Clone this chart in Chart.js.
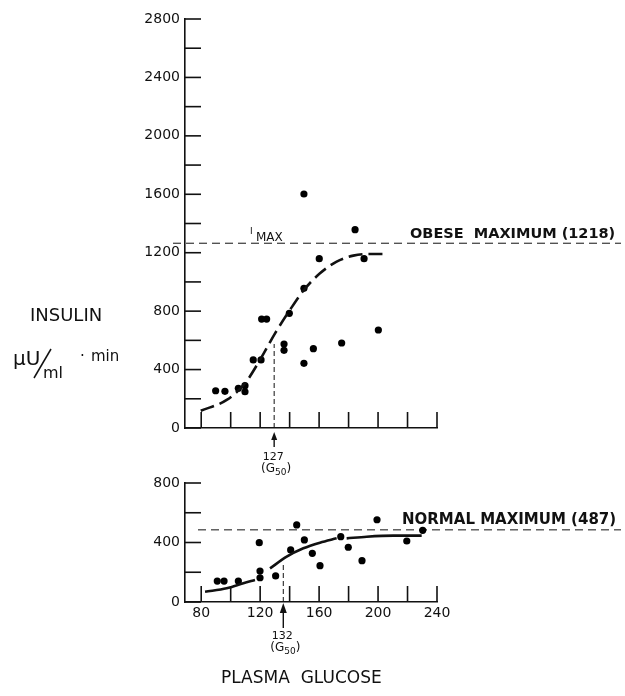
<!DOCTYPE html>
<html><head><meta charset="utf-8">
<script src="https://cdn.jsdelivr.net/npm/chart.js@4.4.1/dist/chart.umd.min.js"></script>
<style>
html,body{margin:0;padding:0;background:#fff;width:625px;height:696px;overflow:hidden;}
#wrap{position:relative;width:625px;height:696px;}
canvas{position:absolute;left:0;}
</style></head><body>
<div id="wrap">
<canvas id="top" width="625" height="476" style="top:0px;width:625px;height:476px"></canvas>
<canvas id="bot" width="625" height="230" style="top:466px;width:625px;height:230px"></canvas>
</div>
<script>
// ---------- data ----------
const obeseGlucose = [89.8,96.1,105.2,109.7,109.7,115.3,120.6,121.0,124.4,136.2,136.2,139.8,149.7,149.7,149.7,156.1,160.1,175.3,184.4,190.5,200.2];
const obeseInsulin = [255,251,272,290,248,466,466,746,746,575,532,785,1602,956,443,543,1159,582,1358,1159,671];
const obeseCurveGlucose = [79.7,97.3,109.7,119.9,130.1,140.2,149.7,160.6,171.9,183.2,192.3,203.2];
const obeseCurveInsulin = [118,192,306,466,648,808,945,1059,1139,1180,1191,1191];
const normalGlucose = [90.9,95.5,105.2,119.4,119.9,119.9,130.5,140.7,144.8,150.0,155.4,160.6,174.7,179.8,189.1,199.3,219.5,230.3];
const normalInsulin = [141,141,141,399,208,163,175,350,518,417,327,244,439,368,278,553,410,482];
const normalCurveGlucose = [82.6,97.3,108.6,116.5,null,126.7,138.0,149.3,160.6,171.9,null,178.7,192.3,210.4,229.6];
const normalCurveInsulin = [69,92,126,148,null,226,305,361,399,428,null,428,439,446,446];
const obeseMaxLine = 1265;      // drawn level of "OBESE MAXIMUM (1218)"
const normalMaxLine = 485;      // drawn level of "NORMAL MAXIMUM (487)"
const obeseG50 = 129.5, obeseG50Top = 575, obeseG50Text = '127';
const normalG50 = 135.7, normalG50Top = 250, normalG50Text = '132';
const xTickValues = [80,100,120,140,160,180,200,220,240];
const xTickLabels = [80,120,160,200,240];
const topYTickValues = [0,200,400,600,800,1000,1200,1400,1600,1800,2000,2200,2400,2600,2800];
const topYTickLabels = [0,400,800,1200,1600,2000,2400,2800];
const botYTickValues = [0,200,400,600,800];
const botYTickLabels = [0,400,800];

// ---------- helpers ----------
Chart.defaults.font.family = '"DejaVu Sans"';
Chart.defaults.color = '#111';
const INK = '#111';
const pts = (xs, ys) => xs.map((x, i) => (x === null ? {x: null, y: null} : {x, y: ys[i]}));
function line(ctx, x1, y1, x2, y2){ctx.beginPath();ctx.moveTo(x1,y1);ctx.lineTo(x2,y2);ctx.stroke();}
function arrowUp(ctx, x, tip, headLen, headW, tail){
  ctx.setLineDash([]); ctx.lineWidth = 1.4; ctx.strokeStyle = INK; ctx.fillStyle = INK;
  line(ctx, x, tip + headLen - 1, x, tail);
  ctx.beginPath(); ctx.moveTo(x, tip); ctx.lineTo(x - headW/2, tip + headLen); ctx.lineTo(x + headW/2, tip + headLen); ctx.closePath(); ctx.fill();
}
function g50Label(ctx, cx, base, num){
  ctx.fillStyle = INK; ctx.textBaseline = 'alphabetic';
  ctx.font = '11px "DejaVu Sans"'; ctx.textAlign = 'center'; ctx.fillText(num, cx, base);
  ctx.textAlign = 'left';
  const f1 = '12px "DejaVu Sans"', f2 = '9px "DejaVu Sans"';
  ctx.font = f1; const w1 = ctx.measureText('(G').width, w3 = ctx.measureText(')').width;
  ctx.font = f2; const w2 = ctx.measureText('50').width;
  const x0 = cx - (w1 + w2 + w3)/2 + 3;
  ctx.font = f1; ctx.fillText('(G', x0, base + 12);
  ctx.font = f2; ctx.fillText('50', x0 + w1, base + 15);
  ctx.font = f1; ctx.fillText(')', x0 + w1 + w2, base + 12);
}
function innerTicks(chart, yVals){
  const {ctx, chartArea: a, scales: {x, y}} = chart;
  ctx.save(); ctx.strokeStyle = INK; ctx.lineWidth = 1.6; ctx.setLineDash([]);
  yVals.forEach(v => { const py = y.getPixelForValue(v); line(ctx, a.left, py, a.left + 16, py); });
  xTickValues.forEach(v => { const px = x.getPixelForValue(v); line(ctx, px, a.bottom, px, a.bottom - 16); });
  ctx.restore();
}
function yScale(min, max, labels){
  return {
    type: 'linear', min, max,
    grid: {display: false, drawTicks: false},
    border: {display: true, color: INK, width: 1.6},
    ticks: {padding: 5, color: INK, font: {size: 14}, callback: v => String(v)},
    afterBuildTicks: s => { s.ticks = labels.map(v => ({value: v})); },
    afterFit: s => { s.width = 185; s.paddingTop = 0; s.paddingBottom = 0; }
  };
}

// ---------- top chart (obese) ----------
const topPlugin = {
  id: 'topAnn',
  beforeDatasetsDraw(chart){
    const {ctx, chartArea: a, scales: {x, y}} = chart;
    innerTicks(chart, topYTickValues);
    ctx.save(); ctx.strokeStyle = INK;
    ctx.lineWidth = 1; ctx.setLineDash([8,5]);
    const my = y.getPixelForValue(obeseMaxLine);
    line(ctx, a.left - 12, my, 621, my);
    ctx.setLineDash([5,3]);
    const gx = x.getPixelForValue(obeseG50);
    line(ctx, gx, a.bottom, gx, y.getPixelForValue(obeseG50Top));
    ctx.restore();
  },
  afterDraw(chart){
    const {ctx, chartArea: a, scales: {x, y}} = chart;
    ctx.save();
    const gx = x.getPixelForValue(obeseG50);
    arrowUp(ctx, gx, a.bottom + 4, 8, 6, a.bottom + 19);
    g50Label(ctx, gx - 1, a.bottom + 32, obeseG50Text);
    ctx.fillStyle = INK; ctx.textAlign = 'left'; ctx.textBaseline = 'alphabetic';
    const my = y.getPixelForValue(obeseMaxLine);
    ctx.font = 'bold 14.5px "DejaVu Sans"';
    ctx.fillText('OBESE  MAXIMUM (1218)', 410, my - 5);
    ctx.font = '9px "DejaVu Sans"'; ctx.fillText('I', 250, my - 9);
    ctx.font = '12px "DejaVu Sans"'; ctx.fillText('MAX', 256, my - 2);
    // y-axis title
    ctx.font = '18px "DejaVu Sans"'; ctx.fillText('INSULIN', 30, 321);
    ctx.font = '20px "DejaVu Sans"'; ctx.fillText('\u00b5U', 13, 365);
    ctx.lineWidth = 1.5; ctx.strokeStyle = INK; line(ctx, 51, 349, 34, 378);
    ctx.font = '16px "DejaVu Sans"'; ctx.fillText('ml', 43, 378);
    ctx.font = '15px "DejaVu Sans"'; ctx.fillText('\u00b7', 80, 361); ctx.fillText('min', 91, 361);
    ctx.restore();
  }
};
new Chart(document.getElementById('top'), {
  type: 'scatter',
  data: {datasets: [
    {data: pts(obeseCurveGlucose, obeseCurveInsulin), showLine: true, pointRadius: 0, borderColor: INK, borderWidth: 2.6, borderDash: [14,6], cubicInterpolationMode: 'monotone', fill: false},
    {data: pts(obeseGlucose, obeseInsulin), showLine: false, pointRadius: 3.6, pointBackgroundColor: '#000', pointBorderWidth: 0}
  ]},
  options: {
    responsive: false, animation: false, devicePixelRatio: 1,
    layout: {padding: {left: 0, top: 19, right: 188, bottom: 48}},
    plugins: {legend: {display: false}, tooltip: {enabled: false}},
    scales: {
      x: {type: 'linear', min: 69, max: 240,
          grid: {display: false, drawTicks: false},
          border: {display: true, color: INK, width: 1.6},
          ticks: {display: false},
          afterFit: s => { s.height = 0; s.paddingLeft = 0; s.paddingRight = 0; }},
      y: yScale(0, 2800, topYTickLabels)
    }
  },
  plugins: [topPlugin]
});

// ---------- bottom chart (normal) ----------
const botPlugin = {
  id: 'botAnn',
  beforeDatasetsDraw(chart){
    const {ctx, chartArea: a, scales: {x, y}} = chart;
    innerTicks(chart, botYTickValues);
    ctx.save(); ctx.strokeStyle = INK;
    ctx.lineWidth = 1; ctx.setLineDash([8,5]);
    const my = y.getPixelForValue(normalMaxLine);
    line(ctx, a.left + 13, my, 621, my);
    ctx.setLineDash([5,3]);
    const gx = x.getPixelForValue(normalG50);
    line(ctx, gx, a.bottom, gx, y.getPixelForValue(normalG50Top));
    ctx.restore();
  },
  afterDraw(chart){
    const {ctx, chartArea: a, scales: {x, y}} = chart;
    ctx.save();
    const gx = x.getPixelForValue(normalG50);
    arrowUp(ctx, gx, a.bottom + 1, 10, 7, a.bottom + 26);
    g50Label(ctx, gx - 1, a.bottom + 37, normalG50Text);
    ctx.fillStyle = INK; ctx.textAlign = 'left'; ctx.textBaseline = 'alphabetic';
    const my = y.getPixelForValue(normalMaxLine);
    ctx.font = 'bold 15px "DejaVu Sans"';
    ctx.fillText('NORMAL MAXIMUM (487)', 402, my - 6);
    ctx.font = '17px "DejaVu Sans"';
    ctx.fillText('PLASMA  GLUCOSE', 221, a.bottom + 81);
    ctx.restore();
  }
};
new Chart(document.getElementById('bot'), {
  type: 'scatter',
  data: {datasets: [
    {data: pts(normalCurveGlucose, normalCurveInsulin), showLine: true, spanGaps: false, pointRadius: 0, borderColor: INK, borderWidth: 2.6, cubicInterpolationMode: 'monotone', fill: false},
    {data: pts(normalGlucose, normalInsulin), showLine: false, pointRadius: 3.6, pointBackgroundColor: '#000', pointBorderWidth: 0}
  ]},
  options: {
    responsive: false, animation: false, devicePixelRatio: 1,
    layout: {padding: {left: 0, top: 17, right: 188, bottom: 74}},
    plugins: {legend: {display: false}, tooltip: {enabled: false}},
    scales: {
      x: {type: 'linear', min: 69, max: 240,
          grid: {display: false, drawTicks: false},
          border: {display: true, color: INK, width: 1.6},
          ticks: {padding: 3, color: INK, font: {size: 14}, maxRotation: 0, autoSkip: false, callback: v => String(v)},
          afterBuildTicks: s => { s.ticks = xTickLabels.map(v => ({value: v})); },
          afterFit: s => { s.height = 20; s.paddingLeft = 0; s.paddingRight = 0; }},
      y: yScale(0, 800, botYTickLabels)
    }
  },
  plugins: [botPlugin]
});
</script>
</body></html>
